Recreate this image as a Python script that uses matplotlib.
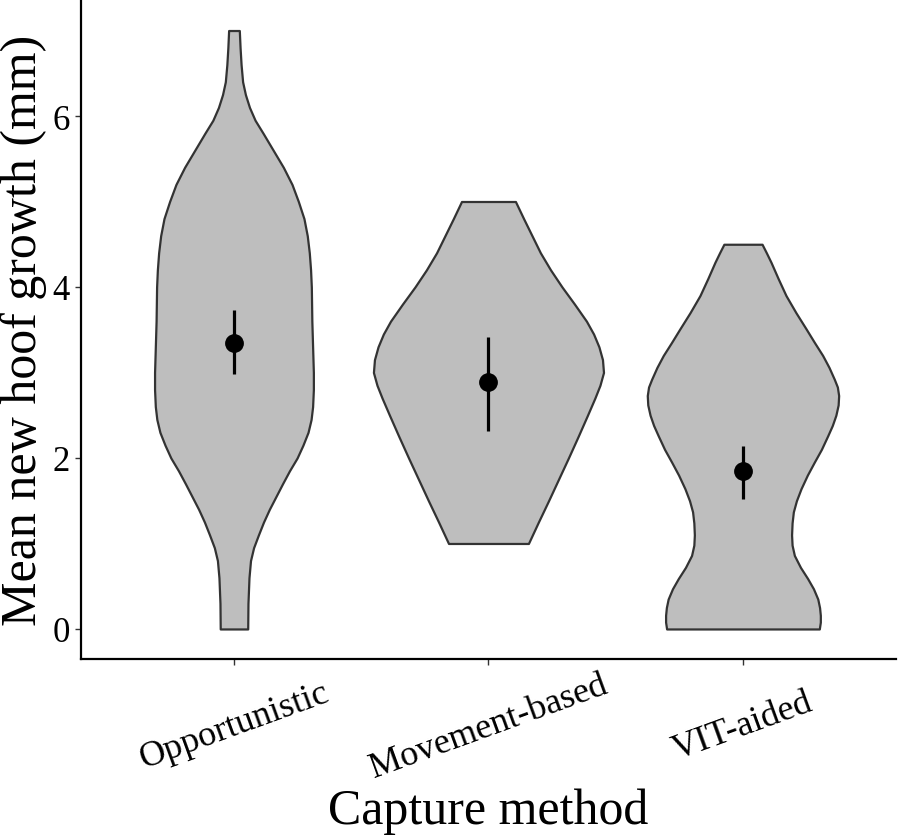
import matplotlib
matplotlib.use("Agg")
import matplotlib.pyplot as plt
import numpy as np

plt.rcParams['font.family'] = ['Liberation Serif', 'DejaVu Serif']

categories = ["Opportunistic", "Movement-based", "VIT-aided"]

# violin outlines: value levels and half-widths (x-axis units)
opp_y = [0.0, 0.3, 0.6, 0.8, 0.95, 1.1, 1.25, 1.4, 1.55, 1.7, 1.85, 2.0, 2.15, 2.3, 2.45,
         2.6, 2.8, 3.0, 3.2, 3.4, 3.6, 3.8, 4.0, 4.2, 4.4, 4.6, 4.8, 5.0, 5.2, 5.4, 5.6,
         5.8, 5.95, 6.1, 6.25, 6.4, 6.6, 6.8, 7.0]
opp_hw = [0.054, 0.055, 0.059, 0.065, 0.077, 0.096, 0.116, 0.139, 0.165, 0.191, 0.218,
          0.248, 0.271, 0.291, 0.303, 0.309, 0.312, 0.312, 0.310, 0.308, 0.306, 0.305,
          0.304, 0.301, 0.296, 0.288, 0.275, 0.253, 0.228, 0.194, 0.154, 0.114, 0.083,
          0.061, 0.045, 0.034, 0.028, 0.024, 0.021]

mov_y = [1.0, 1.25, 1.5, 1.75, 2.0, 2.25, 2.5, 2.7, 2.85, 3.0, 3.15, 3.3, 3.45, 3.6, 3.8,
         4.0, 4.2, 4.4, 4.6, 4.8, 5.0]
mov_hw = [0.157, 0.196, 0.236, 0.275, 0.314, 0.352, 0.389, 0.418, 0.438, 0.452, 0.448,
          0.434, 0.413, 0.385, 0.338, 0.289, 0.244, 0.204, 0.171, 0.138, 0.106]

vit_y = [0.0, 0.08, 0.16, 0.25, 0.35, 0.47, 0.59, 0.72, 0.86, 0.98, 1.10, 1.24, 1.37, 1.5,
         1.64, 1.8, 1.95, 2.1, 2.26, 2.38, 2.5, 2.62, 2.73, 2.83, 2.92, 3.06, 3.20, 3.35,
         3.51, 3.7, 3.90, 4.1, 4.29, 4.4, 4.5]
vit_hw = [0.300, 0.304, 0.304, 0.301, 0.294, 0.277, 0.254, 0.226, 0.202, 0.193, 0.191,
          0.193, 0.198, 0.210, 0.228, 0.253, 0.280, 0.308, 0.333, 0.351, 0.365, 0.374,
          0.376, 0.371, 0.359, 0.338, 0.313, 0.281, 0.248, 0.208, 0.169, 0.138, 0.110,
          0.092, 0.075]

means = [3.34, 2.885, 1.85]
lower = [2.98, 2.31, 1.52]
upper = [3.73, 3.42, 2.14]

yticks = [0, 2, 4, 6]

W, H = 898, 837
fig = plt.figure(figsize=(W / 100, H / 100), dpi=100)
ax_left, ax_bottom, ax_w, ax_h = 0.0905, 0.2116, 0.9069, 0.7865
ax = fig.add_axes([ax_left, ax_bottom, ax_w, ax_h])

profiles = [(opp_y, opp_hw), (mov_y, mov_hw), (vit_y, vit_hw)]
for i, (yy, hw) in enumerate(profiles):
    pos = i + 1
    yy = np.asarray(yy)
    hw = np.asarray(hw)
    ax.fill_betweenx(yy, pos - hw, pos + hw, facecolor="#BEBEBE",
                     edgecolor="#333333", linewidth=1.6, zorder=2)

pos = np.arange(1, len(categories) + 1)
m = np.asarray(means)
ax.vlines(pos, lower, upper, color="black", linewidth=2.3, zorder=3)
ax.plot(pos, m, 'o', color="black", markersize=12.5, zorder=4)

ax.set_xlim(0.4, 3.6)
ax.set_ylim(-0.35, 7.35)
ax.set_xticks(pos)
ax.set_xticklabels(categories, rotation=20, rotation_mode="anchor",
                   ha="center", va="center", fontsize=26)
ax.set_yticks(yticks)
ax.set_yticklabels([str(t) for t in yticks], fontsize=25)
ax.tick_params(axis='both', length=4.3, width=1.0, color="#333333", labelcolor="black")
# centre of rotated x labels about 67 px below the axis line
ax.tick_params(axis='x', pad=67 * 0.72 - 4.3)
ax.tick_params(axis='y', pad=4)

for s in ["top", "right"]:
    ax.spines[s].set_visible(False)
for s in ["left", "bottom"]:
    ax.spines[s].set_linewidth(1.6)
    ax.spines[s].set_color("black")

ax_h_px = ax_h * H
ax_w_px = ax_w * W
bottom_px = H - ax_bottom * H  # pixel row (from top) of the axes bottom

ax.set_xlabel("Capture method", fontsize=36, va="center")
ax.xaxis.set_label_coords(0.5, -(812 - bottom_px) / ax_h_px)
ax.set_ylabel("Mean new hoof growth (mm)", fontsize=36, va="center")
ax.yaxis.set_label_coords(-(ax_left * W - 24) / ax_w_px, 0.5)

fig.savefig("out.png", dpi=100)
